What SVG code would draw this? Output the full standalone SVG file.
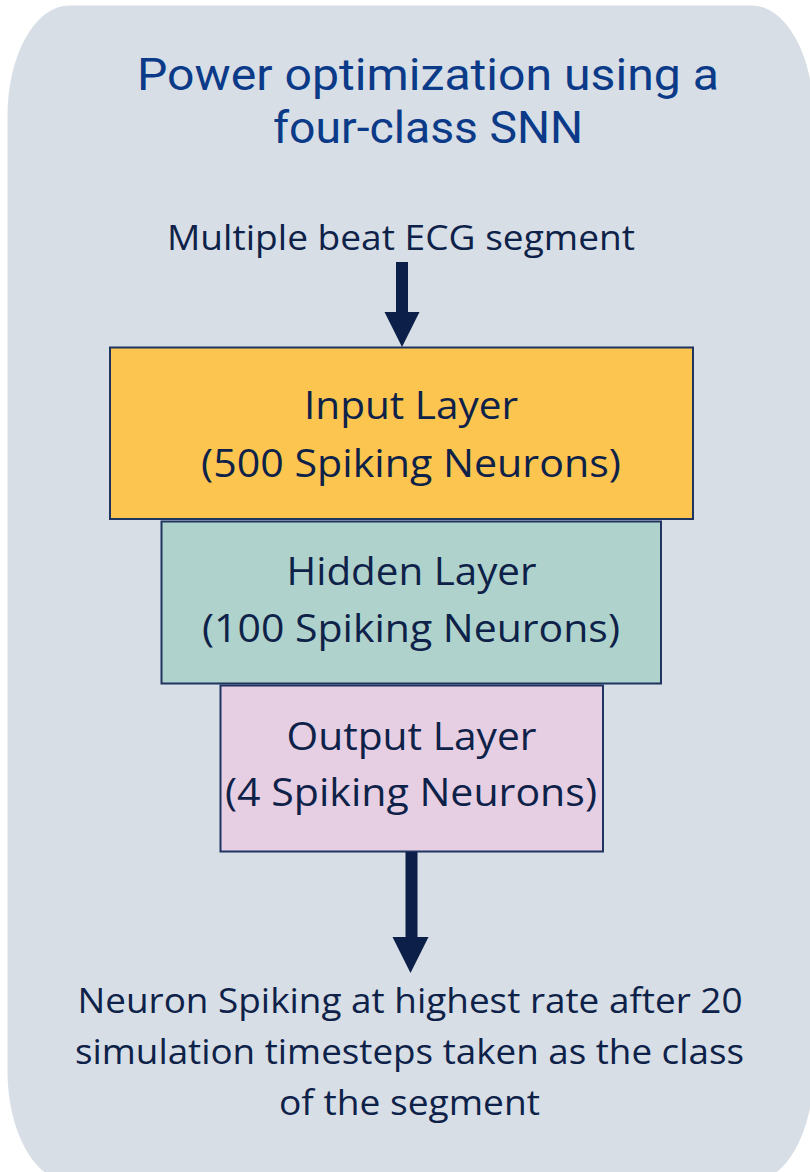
<svg xmlns="http://www.w3.org/2000/svg" width="810" height="1172" viewBox="0 0 810 1172">
<style>
.t{font-family:"Open Sans","Noto Sans","Liberation Sans",sans-serif;text-anchor:middle;fill:#0E2249}
.title{font-family:Roboto,"Open Sans","Liberation Sans",sans-serif;text-anchor:middle;fill:#0B3A88;font-size:45px}
.box{stroke:#1F3461;stroke-width:2}
.lbl{font-size:39px}
.cap{font-size:35px}
</style>
<rect id="panel" x="7.5" y="5.5" width="806" height="1176" rx="62" ry="110" fill="#D7DEE5"/>
<g id="title">
<text class="title" x="428" y="90" textLength="582" lengthAdjust="spacingAndGlyphs">Power optimization using a</text>
<text class="title" x="428" y="143" textLength="310" lengthAdjust="spacingAndGlyphs">four-class SNN</text>
</g>
<g id="input-label">
<text class="t cap" x="401" y="249.5" textLength="468" lengthAdjust="spacingAndGlyphs">Multiple beat ECG segment</text>
</g>
<g id="input-layer">
<rect class="box" x="110" y="347.5" width="583" height="171.5" fill="#FBC54F"/>
<text class="t lbl" x="411" y="418.5" textLength="214" lengthAdjust="spacingAndGlyphs">Input Layer</text>
<text class="t lbl" x="411" y="476.5" textLength="420" lengthAdjust="spacingAndGlyphs">(500 Spiking Neurons)</text>
</g>
<g id="hidden-layer">
<rect class="box" x="161.5" y="521.5" width="499.5" height="162" fill="#AFD3CC"/>
<text class="t lbl" x="411.5" y="585" textLength="250" lengthAdjust="spacingAndGlyphs">Hidden Layer</text>
<text class="t lbl" x="411" y="641.5" textLength="418" lengthAdjust="spacingAndGlyphs">(100 Spiking Neurons)</text>
</g>
<g id="output-layer">
<rect class="box" x="220.5" y="685.5" width="382.5" height="166" fill="#E6CFE3"/>
<text class="t lbl" x="411.5" y="749.5" textLength="250" lengthAdjust="spacingAndGlyphs">Output Layer</text>
<text class="t lbl" x="411" y="806" textLength="372" lengthAdjust="spacingAndGlyphs">(4 Spiking Neurons)</text>
</g>
<g id="result">
<text class="t cap" x="410" y="1012.5" textLength="665" lengthAdjust="spacingAndGlyphs">Neuron Spiking at highest rate after 20</text>
<text class="t cap" x="409.5" y="1064" textLength="669" lengthAdjust="spacingAndGlyphs">simulation timesteps taken as the class</text>
<text class="t cap" x="409.5" y="1115" textLength="261" lengthAdjust="spacingAndGlyphs">of the segment</text>
</g>
<g id="connectors" fill="#0C1F48">
<path d="M396 262 H408 V312 H419.5 L402 347 L384.5 312 H396 Z"/>
<path d="M405.5 852 H417.5 V937 H428.5 L410.5 973 L392.5 937 H405.5 Z"/>
</g>
</svg>
